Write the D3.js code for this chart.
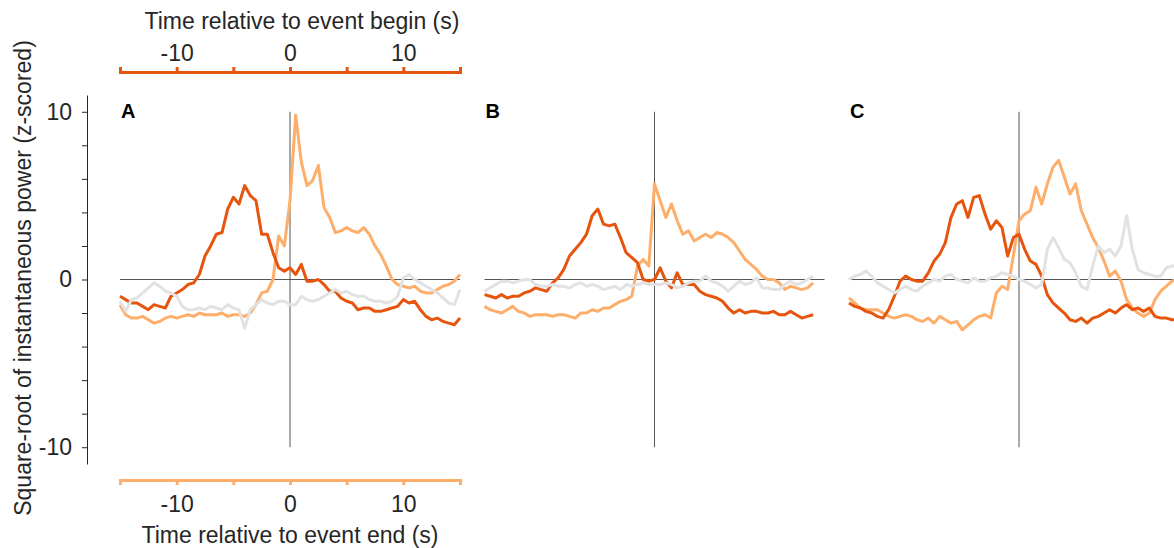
<!DOCTYPE html>
<html>
<head>
<meta charset="utf-8">
<script src="https://cdn.jsdelivr.net/npm/d3@7"></script>
<style>
  body { margin: 0; background: #fff; }
  svg { display: block; font-family: 'Liberation Sans', Arial, sans-serif; }
</style>
</head>
<body>
<svg id="chart" width="1174" height="548"></svg>
<script>
// time grid (s), shared by all panels
const times = [-15, -14.5, -14, -13.5, -13, -12.5, -12, -11.5, -11, -10.5,
  -10, -9.5, -9, -8.5, -8, -7.5, -7, -6.5, -6, -5.5,
  -5, -4.5, -4, -3.5, -3, -2.5, -2, -1.5, -1, -0.5,
  0, 0.5, 1, 1.5, 2, 2.5, 3, 3.5, 4, 4.5,
  5, 5.5, 6, 6.5, 7, 7.5, 8, 8.5, 9, 9.5,
  10, 10.5, 11, 11.5, 12, 12.5, 13, 13.5, 14, 14.5, 15];

const panelLabels = ['A', 'B', 'C'];
const yTickLabels = [-10, 0, 10];
const xTickLabels = [-10, 0, 10];

// panel A
const beginA = [-1.0, -1.2, -1.4, -1.4, -1.6, -1.8, -1.5, -1.6, -1.7, -1.0,
  -0.8, -0.6, -0.3, -0.2, 0.3, 1.4, 2.0, 2.7, 2.8, 4.2,
  4.9, 4.5, 5.6, 5.0, 4.7, 2.7, 2.7, 1.6, 0.7, 0.5,
  0.7, 0.3, 0.9, -0.1, -0.1, 0.0, -0.3, -0.7, -0.7, -1.1,
  -1.3, -1.4, -1.8, -1.7, -1.7, -1.9, -1.9, -1.8, -1.7, -1.6,
  -1.2, -1.4, -1.3, -1.8, -2.2, -2.4, -2.3, -2.5, -2.6, -2.7, -2.3];
const endA = [-1.5, -2.1, -2.3, -2.3, -2.2, -2.4, -2.6, -2.5, -2.3, -2.2,
  -2.3, -2.2, -2.1, -2.2, -2.0, -2.1, -2.1, -2.1, -2.0, -2.2,
  -2.1, -2.1, -2.2, -2.0, -1.5, -0.8, -0.7, 0.0, 2.6, 2.0,
  4.7, 9.8, 7.0, 5.6, 5.9, 6.8, 4.3, 3.7, 2.8, 2.9,
  3.1, 2.9, 2.8, 3.1, 2.7, 2.0, 1.5, 0.8, 0.0, -0.3,
  -0.4, -0.5, -0.4, -0.7, -0.8, -0.8, -0.6, -0.4, -0.3, -0.1, 0.3];
const ctrlA = [-1.3, -1.9, -1.2, -1.1, -0.8, -0.5, -0.2, -0.4, -0.7, -0.8,
  -1.0, -1.6, -1.8, -1.8, -1.7, -1.8, -1.6, -1.7, -1.8, -1.5,
  -1.7, -1.8, -2.9, -1.8, -1.5, -1.2, -1.4, -1.5, -1.3, -1.3,
  -1.5, -1.5, -1.0, -1.2, -1.3, -1.2, -1.0, -0.8, -0.6, -0.8,
  -0.7, -0.9, -1.0, -1.0, -1.2, -1.3, -1.3, -1.4, -1.3, -1.0,
  0.1, 0.3, 0.0, -0.2, -0.4, -0.6, -0.8, -1.1, -1.4, -1.5, -0.6];

// panel B
const beginB = [-0.9, -1.0, -1.1, -0.9, -1.1, -1.0, -1.0, -0.8, -0.7, -0.5,
  -0.6, -0.7, -0.2, 0.1, 0.6, 1.4, 1.8, 2.2, 2.7, 3.8,
  4.2, 3.3, 3.2, 3.3, 2.5, 1.6, 1.3, 1.0, 0.0, -0.1,
  0.0, 0.7, -0.1, -0.5, 0.4, -0.3, -0.3, -0.3, -0.7, -0.9,
  -1.0, -1.1, -1.3, -1.7, -2.0, -1.8, -2.0, -1.9, -1.9, -2.0,
  -2.0, -1.9, -2.1, -2.1, -1.9, -2.1, -2.3, -2.2, -2.1];
const endB = [-1.6, -1.8, -1.9, -2.0, -1.8, -1.6, -1.9, -2.0, -2.2, -2.1,
  -2.1, -2.1, -2.2, -2.1, -2.1, -2.2, -2.3, -2.0, -2.0, -1.8,
  -1.9, -1.7, -1.7, -1.5, -1.3, -1.2, -1.0, 0.8, 1.2, 0.8,
  5.7, 4.7, 3.7, 4.5, 3.5, 2.7, 2.9, 2.3, 2.5, 2.7,
  2.5, 2.8, 2.7, 2.5, 2.2, 1.7, 1.2, 0.9, 0.6, 0.2,
  0.0, 0.0, -0.2, -0.6, -0.4, -0.5, -0.6, -0.5, -0.2];
const ctrlB = [-0.7, -0.5, -0.3, -0.1, -0.1, -0.2, -0.1, 0.0, 0.0, -0.3,
  -0.4, -0.4, -0.3, -0.4, -0.4, -0.5, -0.3, -0.2, -0.4, -0.3,
  -0.4, -0.6, -0.5, -0.4, -0.6, -0.3, -0.4, -0.3, -0.2, -0.3,
  -0.3, -0.3, -0.2, -0.3, -0.5, -0.4, -0.2, -0.1, -0.1, 0.2,
  -0.1, -0.2, -0.4, -0.7, -0.4, -0.1, -0.3, -0.2, 0.1, -0.5,
  -0.5, -0.6, -0.6, -0.3, -0.1, -0.3, -0.2, 0.0, 0.2];

// panel C
const beginC = [-1.4, -1.6, -1.7, -1.9, -2.0, -2.2, -2.3, -1.8, -1.0, -0.1,
  0.2, 0.0, -0.1, -0.1, 0.4, 1.1, 1.5, 2.2, 3.7, 4.5,
  4.7, 3.7, 4.9, 5.0, 3.9, 3.0, 3.5, 3.1, 1.4, 2.5,
  2.7, 1.8, 1.1, 0.9, 0.2, -0.9, -1.4, -1.7, -2.0, -2.4,
  -2.5, -2.3, -2.6, -2.3, -2.2, -2.0, -1.8, -2.0, -1.7, -1.5,
  -1.8, -1.7, -1.9, -1.7, -2.2, -2.3, -2.3, -2.4, -2.4];
const endC = [-1.1, -1.4, -1.7, -1.8, -1.8, -1.8, -2.0, -2.2, -2.3, -2.2,
  -2.1, -2.2, -2.4, -2.5, -2.3, -2.6, -2.2, -2.4, -2.6, -2.5,
  -3.0, -2.7, -2.4, -2.2, -2.1, -2.3, -0.8, -0.4, -0.6, 1.4,
  3.5, 3.9, 4.1, 5.5, 4.5, 5.7, 6.7, 7.1, 6.1, 5.1,
  5.7, 4.1, 3.3, 2.5, 1.9, 1.1, 0.2, 0.5, -0.1, -1.2,
  -1.7, -2.0, -2.2, -2.0, -1.2, -0.7, -0.4, -0.1, 0.0];
const ctrlC = [0.0, 0.2, 0.3, 0.5, 0.2, -0.2, -0.4, -0.6, -0.8, -0.6,
  -0.4, -0.6, -0.7, -0.4, -0.2, 0.0, -0.1, 0.2, 0.3, 0.0,
  -0.1, -0.2, 0.1, -0.1, -0.1, 0.1, 0.2, 0.4, 0.3, 0.2,
  0.0, -0.1, -0.3, -0.5, -0.3, 1.8, 2.5, 1.9, 1.2, 1.0,
  0.4, -0.4, -0.6, 0.8, 2.0, 1.6, 1.8, 1.4, 2.0, 3.8,
  1.8, 0.6, 0.4, 0.3, 0.2, 0.2, 0.7, 0.8, 0.8];

const panels = [
  { label: panelLabels[0], begin: beginA, end: endA, ctrl: ctrlA },
  { label: panelLabels[1], begin: beginB, end: endB, ctrl: ctrlB },
  { label: panelLabels[2], begin: beginC, end: endC, ctrl: ctrlC }
];

const colBegin = '#e6550d',
  colEnd = '#fdae6b',
  colCtrl = '#e2e2e2',
  textCol = '#262626',
  fontSize = '23px';

const svg = d3.select('#chart');

const y = d3.scaleLinear().domain([-11, 11]).range([464, 95]);
const panelX = i =>
  d3.scaleLinear().domain([-15, 15]).range([120 + i * 364.5, 460 + i * 364.5]);

// y axis
const yAxis = svg
  .append('g')
  .attr('transform', 'translate(87,0)')
  .call(
    d3.axisLeft(y)
      .tickValues(d3.range(-10, 11, 2))
      .tickSize(5)
      .tickSizeOuter(0)
      .tickPadding(10)
      .tickFormat(d => (yTickLabels.includes(d) ? String(d) : ''))
  );
yAxis.attr('color', textCol);
yAxis.selectAll('text').attr('font-size', fontSize).attr('font-family', null).attr('fill', textCol);

svg
  .append('text')
  .attr('transform', 'translate(31,278) rotate(-90)')
  .attr('text-anchor', 'middle')
  .attr('font-size', fontSize)
  .attr('fill', textCol)
  .text('Square-root of instantaneous power (z-scored)');

panels.forEach((p, i) => {
  const x = panelX(i);
  const g = svg.append('g');

  g.append('line')
    .attr('x1', x(-15)).attr('x2', x(15))
    .attr('y1', y(0)).attr('y2', y(0))
    .attr('stroke', '#555').attr('stroke-width', 1);
  g.append('line')
    .attr('x1', x(0)).attr('x2', x(0))
    .attr('y1', y(-10)).attr('y2', y(10))
    .attr('stroke', '#555').attr('stroke-width', 1);

  const line = d3.line()
    .x((d, k) => x(times[k]))
    .y(d => y(d));

  [[p.end, colEnd], [p.begin, colBegin], [p.ctrl, colCtrl]].forEach(([vals, c]) => {
    g.append('path')
      .datum(vals)
      .attr('fill', 'none')
      .attr('stroke', c)
      .attr('stroke-width', 3)
      .attr('stroke-linejoin', 'round')
      .attr('d', line);
  });

  g.append('text')
    .attr('x', x(-15) + 1)
    .attr('y', 118)
    .attr('font-size', '20px')
    .attr('font-weight', 'bold')
    .attr('fill', '#000')
    .text(p.label);
});

// top and bottom time axes (panel A only)
const xA = panelX(0);
const tickFmt = d => (xTickLabels.includes(d) ? String(d) : '');

const topAxis = svg
  .append('g')
  .attr('transform', 'translate(0,72)')
  .call(d3.axisTop(xA).tickValues(d3.range(-15, 16, 5)).tickSize(5).tickSizeOuter(5).tickPadding(6).tickFormat(tickFmt));
topAxis.attr('color', colBegin);
topAxis.selectAll('path, line').attr('stroke-width', 3);
topAxis.selectAll('text').attr('font-size', fontSize).attr('font-family', null).attr('fill', textCol);

const bottomAxis = svg
  .append('g')
  .attr('transform', 'translate(0,480)')
  .call(d3.axisBottom(xA).tickValues(d3.range(-15, 16, 5)).tickSize(5).tickSizeOuter(5).tickPadding(11).tickFormat(tickFmt));
bottomAxis.attr('color', colEnd);
bottomAxis.selectAll('path, line').attr('stroke-width', 3);
bottomAxis.selectAll('text').attr('font-size', fontSize).attr('font-family', null).attr('fill', textCol);

svg
  .append('text')
  .attr('x', 302)
  .attr('y', 28.5)
  .attr('text-anchor', 'middle')
  .attr('font-size', fontSize)
  .attr('fill', textCol)
  .text('Time relative to event begin (s)');

svg
  .append('text')
  .attr('x', 290)
  .attr('y', 543)
  .attr('text-anchor', 'middle')
  .attr('font-size', fontSize)
  .attr('fill', textCol)
  .text('Time relative to event end (s)');
</script>
</body>
</html>
